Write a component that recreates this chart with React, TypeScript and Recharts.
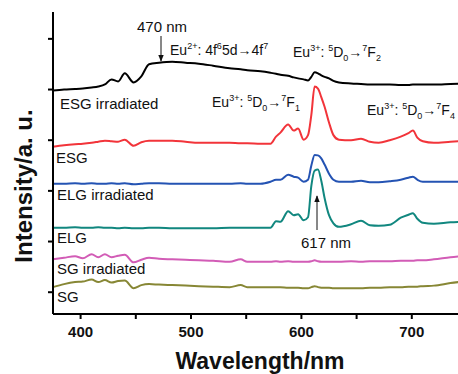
import { LineChart, Line, XAxis, YAxis } from "recharts";

const wavelengths = [
  375, 385, 395, 402, 410, 416, 422, 428, 434, 440, 448, 455, 462, 471, 483, 495, 507, 520, 535, 545,
  551, 563, 572, 577, 581, 588, 593, 597, 602, 606, 609, 612, 615, 618, 621, 625, 629, 634, 645, 654,
  662, 670, 680, 690, 697, 701, 705, 710, 720, 735, 750,
];

const esgIrradiated = [
  3.98, 4.0, 4.01, 4.02, 4.04, 4.06, 4.1, 4.2, 4.16, 4.32, 4.14, 4.26, 4.5, 4.53, 4.55, 4.53, 4.51, 4.47, 4.42, 4.4,
  4.38, 4.36, 4.33, 4.31, 4.29, 4.27, 4.24, 4.22, 4.2, 4.18, 4.25, 4.34, 4.32, 4.28, 4.25, 4.22, 4.17, 4.14, 4.12, 4.11,
  4.1, 4.1, 4.1, 4.09, 4.09, 4.1, 4.1, 4.1, 4.1, 4.11, 4.12,
];

const esg = [
  2.87, 2.9, 2.92, 2.93, 2.95, 2.97, 2.99, 2.98, 2.97, 3.01, 2.89, 2.96, 2.99, 2.99, 2.99, 2.97, 2.95, 2.95, 2.95, 2.94,
  2.94, 2.93, 2.93, 3.07, 3.15, 3.31, 3.19, 3.23, 3.01, 3.1, 3.5, 4.06, 4.02, 3.85, 3.66, 3.35, 3.1, 3.01, 3.0, 3.03,
  2.97, 2.95, 3.0, 3.07, 3.14, 3.19, 3.05, 2.98, 2.95, 2.97, 2.99,
];

const elgIrradiated = [
  2.14, 2.14, 2.15, 2.14, 2.15, 2.14, 2.14, 2.15, 2.14, 2.15, 2.13, 2.14, 2.15, 2.15, 2.14, 2.14, 2.14, 2.14, 2.14, 2.15,
  2.14, 2.14, 2.18, 2.22, 2.22, 2.32, 2.28, 2.26, 2.18, 2.22, 2.5, 2.71, 2.7, 2.64, 2.52, 2.34, 2.22, 2.18, 2.18, 2.2,
  2.17, 2.17, 2.19, 2.22, 2.26, 2.28, 2.22, 2.18, 2.18, 2.18, 2.18,
];

const elg = [
  1.27, 1.27, 1.28, 1.27, 1.27, 1.28, 1.27, 1.27, 1.26, 1.27, 1.26, 1.26, 1.27, 1.27, 1.26, 1.26, 1.26, 1.26, 1.27, 1.27,
  1.27, 1.27, 1.27, 1.4, 1.39, 1.6, 1.52, 1.54, 1.42, 1.48, 2.1, 2.4, 2.42, 2.2, 1.86, 1.52, 1.36, 1.29, 1.34, 1.41,
  1.32, 1.31, 1.33, 1.47, 1.53, 1.56, 1.45, 1.37, 1.35, 1.38, 1.39,
];

const sgIrradiated = [
  0.65, 0.68, 0.71, 0.67, 0.75, 0.69, 0.75, 0.69, 0.72, 0.74, 0.59, 0.64, 0.68, 0.66, 0.65, 0.64, 0.63, 0.62, 0.6, 0.65,
  0.6, 0.6, 0.6, 0.61, 0.6, 0.61, 0.6, 0.6, 0.6, 0.6, 0.61, 0.63, 0.61, 0.6, 0.6, 0.6, 0.6, 0.6, 0.61, 0.6,
  0.61, 0.61, 0.61, 0.62, 0.62, 0.62, 0.63, 0.63, 0.65, 0.69, 0.72,
];

const sg = [
  0.1, 0.16, 0.2, 0.21, 0.25, 0.2, 0.24, 0.19, 0.22, 0.23, 0.08, 0.14, 0.16, 0.15, 0.14, 0.13, 0.12, 0.11, 0.1, 0.14,
  0.1, 0.1, 0.1, 0.1, 0.1, 0.09, 0.09, 0.09, 0.08, 0.08, 0.1, 0.12, 0.1, 0.09, 0.09, 0.09, 0.08, 0.08, 0.08, 0.08,
  0.09, 0.09, 0.1, 0.1, 0.11, 0.11, 0.11, 0.12, 0.13, 0.18, 0.22,
];

const xTicks = [400, 450, 500, 550, 600, 650, 700, 750];
const yTicks = [0, 1, 2, 3, 4, 5];

const series = [
  { key: "esgIrr", values: esgIrradiated, color: "#000000" },
  { key: "esg", values: esg, color: "#f2343a" },
  { key: "elgIrr", values: elgIrradiated, color: "#2453b3" },
  { key: "elg", values: elg, color: "#11877f" },
  { key: "sgIrr", values: sgIrradiated, color: "#d25cb6" },
  { key: "sg", values: sg, color: "#878735" },
];

const data = wavelengths.map((w, i) => {
  const row: Record<string, number> = { w };
  series.forEach((s) => (row[s.key] = s.values[i]));
  return row;
});

const FONT = "'Liberation Sans', Arial, sans-serif";

// segments: [text, "n" | "sup" | "sub"]
type Seg = [string, "n" | "sup" | "sub"];

function RichText({ x, y, segs, size = 14 }: { x: number; y: number; segs: Seg[]; size?: number }) {
  let prev = 0;
  return (
    <text x={x} y={y} fontSize={size} fontFamily={FONT} fill="#111">
      {segs.map(([t, kind], i) => {
        const off = kind === "sup" ? -6 : kind === "sub" ? 4 : 0;
        const dy = off - prev;
        prev = off;
        return (
          <tspan key={i} dy={dy} fontSize={kind === "n" ? size : 9}>
            {t}
          </tspan>
        );
      })}
    </text>
  );
}

const labelStyle = { fontSize: 15, fontFamily: FONT, fill: "#111" };

export default function App() {
  return (
    <div style={{ position: "absolute", left: 0, top: 0, width: 458, height: 374, overflow: "hidden", background: "#fff" }}>
      <LineChart width={480} height={374} data={data} margin={{ top: 12, right: 13, bottom: 0, left: 0 }}>
        <XAxis
          dataKey="w"
          type="number"
          domain={[375, 750]}
          ticks={xTicks}
          tickFormatter={(v: number) => (v % 100 === 0 && v < 750 ? String(v) : "")}
          height={60}
          tickSize={5}
          tickMargin={7}
          axisLine={{ stroke: "#000", strokeWidth: 2 }}
          tickLine={{ stroke: "#000", strokeWidth: 2 }}
          tick={{ fill: "#111", fontSize: 15, fontWeight: "bold", fontFamily: FONT }}
        />
        <XAxis
          xAxisId="top"
          dataKey="w"
          type="number"
          domain={[375, 750]}
          orientation="top"
          height={0}
          tick={false}
          tickLine={false}
          axisLine={{ stroke: "#000", strokeWidth: 2 }}
        />
        <YAxis
          type="number"
          domain={[-0.43, 5.53]}
          ticks={yTicks}
          tickFormatter={() => ""}
          width={53}
          tickSize={5}
          axisLine={{ stroke: "#000", strokeWidth: 2 }}
          tickLine={{ stroke: "#000", strokeWidth: 2 }}
        />
        {series.map((s) => (
          <Line
            key={s.key}
            dataKey={s.key}
            type="monotone"
            stroke={s.color}
            strokeWidth={2}
            dot={false}
            isAnimationActive={false}
          />
        ))}
      </LineChart>
      <svg width={458} height={374} style={{ position: "absolute", left: 0, top: 0, pointerEvents: "none" }}>
        <defs>
          <marker id="ah" viewBox="0 0 10 10" refX="9" refY="5" markerWidth="7" markerHeight="9" orient="auto">
            <path d="M0,1 L10,5 L0,9 z" fill="#111" />
          </marker>
        </defs>
        <text x={137} y={32} {...labelStyle}>470 nm</text>
        <line x1={161} y1={36} x2={161} y2={61} stroke="#111" strokeWidth={1} markerEnd="url(#ah)" />
        <RichText x={170} y={55} segs={[["Eu", "n"], ["2+", "sup"], [": 4f", "n"], ["6", "sup"], ["5d\u21924f", "n"], ["7", "sup"]]} />
        <RichText x={293} y={57} segs={[["Eu", "n"], ["3+", "sup"], [": ", "n"], ["5", "sup"], ["D", "n"], ["0", "sub"], ["\u2192", "n"], ["7", "sup"], ["F", "n"], ["2", "sub"]]} />
        <RichText x={212} y={107} segs={[["Eu", "n"], ["3+", "sup"], [": ", "n"], ["5", "sup"], ["D", "n"], ["0", "sub"], ["\u2192", "n"], ["7", "sup"], ["F", "n"], ["1", "sub"]]} />
        <RichText x={367} y={115} segs={[["Eu", "n"], ["3+", "sup"], [": ", "n"], ["5", "sup"], ["D", "n"], ["0", "sub"], ["\u2192", "n"], ["7", "sup"], ["F", "n"], ["4", "sub"]]} />
        <text x={60} y={109} {...labelStyle}>ESG irradiated</text>
        <text x={56} y={163} {...labelStyle}>ESG</text>
        <text x={57} y={200} {...labelStyle}>ELG irradiated</text>
        <text x={57} y={243} {...labelStyle}>ELG</text>
        <text x={57} y={274} {...labelStyle}>SG irradiated</text>
        <text x={57} y={302} {...labelStyle}>SG</text>
        <text x={301} y={248} {...labelStyle}>617 nm</text>
        <line x1={317} y1={230} x2={317} y2={196} stroke="#111" strokeWidth={1} markerEnd="url(#ah)" />
        <text
          x={23}
          y={186}
          transform="rotate(-90 23 186)"
          textAnchor="middle"
          dominantBaseline="central"
          fontSize={24}
          fontWeight="bold"
          fontFamily={FONT}
          fill="#111"
        >
          Intensity/a. u.
        </text>
        <text x={260} y={369} textAnchor="middle" fontSize={23} fontWeight="bold" fontFamily={FONT} fill="#111">
          Wavelength/nm
        </text>
      </svg>
    </div>
  );
}
